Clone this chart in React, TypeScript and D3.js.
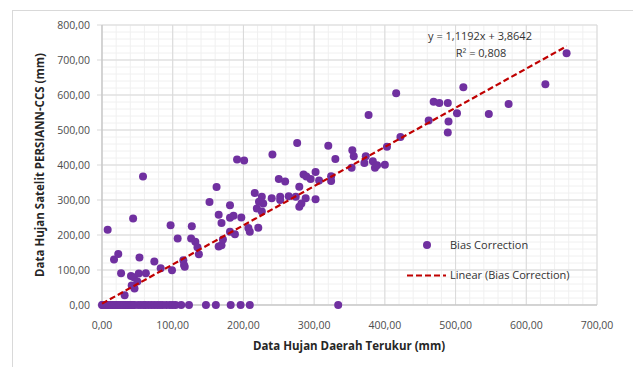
import * as d3 from 'd3';

// Rain gauge (x) vs. PERSIANN-CCS satellite (y), mm
const gaugeRain = [
  8, 17, 23, 27, 32, 44, 41, 45, 42, 46, 50, 52, 62, 53, 58, 74, 83, 97, 99, 107,
  115, 116, 117, 127, 126, 132, 135, 137, 152, 162, 165, 169, 165, 169, 171, 181, 181, 186, 197, 181,
  188, 207, 209, 221, 191, 201, 216, 222, 219, 226, 228, 226, 241, 240, 250, 252, 252, 259, 264, 274,
  276, 279, 282, 279, 285, 289, 288, 295, 302, 302, 307, 320, 324, 324, 330, 353, 354, 356, 371, 373,
  377, 383, 386, 389, 400, 403, 422, 416, 462, 469, 477, 489, 490, 489, 502, 511, 547, 575, 627, 657,
];
const satelliteRain = [
  215, 130, 146, 91, 28, 247, 83, 79, 56, 47, 67, 90, 91, 136, 367, 124, 105, 228, 99, 190,
  128, 114, 109, 225, 190, 181, 165, 145, 294, 337, 258, 234, 167, 171, 187, 285, 249, 255, 250, 209,
  202, 220, 209, 221, 416, 413, 320, 295, 276, 309, 290, 267, 430, 305, 360, 309, 300, 353, 311, 309,
  463, 281, 290, 338, 373, 367, 305, 360, 380, 302, 356, 455, 368, 354, 417, 392, 442, 425, 406, 425,
  543, 411, 392, 399, 401, 452, 480, 605, 527, 581, 577, 577, 524, 493, 548, 622, 546, 574, 631, 719,
];
// gauge values where the satellite recorded 0 mm
const zeroSatellite = [
  0, 1, 2, 3, 4, 5, 6, 7, 8, 9, 10, 11, 12, 13, 14, 15, 16, 17, 18, 19, 20, 22, 24, 26, 28,
  30, 32, 34, 36, 38, 40, 42, 44, 46, 51, 55, 59, 62, 66, 70, 74, 78, 82, 86, 91, 96, 100, 104,
  112, 123, 147, 161, 182, 196, 209, 334,
];

const slope = 1.1192;
const intercept = 3.8642;
const equationLabel = 'y = 1,1192x + 3,8642';
const r2Label = 'R² = 0,808';

const xTicks = [0, 100, 200, 300, 400, 500, 600, 700];
const yTicks = [0, 100, 200, 300, 400, 500, 600, 700, 800];

const fmt = (v: number) => v.toFixed(2).replace('.', ',');

export default function App() {
  const width = 633;
  const height = 367;
  const left = 102;
  const right = 597;
  const top = 25;
  const bottom = 305;

  const x = d3.scaleLinear().domain([0, 700]).range([left, right]);
  const y = d3.scaleLinear().domain([0, 800]).range([bottom, top]);

  const minorX = d3.range(0, 701, 20);
  const minorY = d3.range(0, 801, 20);

  const points = gaugeRain.map((g, i) => ({ g, s: satelliteRain[i] }))
    .concat(zeroSatellite.map(g => ({ g, s: 0 })));

  const xMax = d3.max(points, d => d.g) ?? 0;
  const trend = d3.line<number>()
    .x(d => x(d))
    .y(d => y(slope * d + intercept));

  const font = "'Open Sans', 'Noto Sans', sans-serif";
  const purple = '#7030a0';
  const red = '#c00000';

  return (
    <svg width={width} height={height} style={{ position: 'absolute', left: 0, top: 0, background: '#fff' }} fontFamily={font}>
      <rect x={12.5} y={10.5} width={640} height={400} fill="#fff" stroke="#d9d9d9" />

      {/* minor grid */}
      <g stroke="#f0f0f0" strokeWidth={1}>
        {minorX.map(v => <line key={'mx' + v} x1={x(v)} x2={x(v)} y1={top} y2={bottom} />)}
        {minorY.map(v => <line key={'my' + v} x1={left} x2={right} y1={y(v)} y2={y(v)} />)}
      </g>
      {/* major grid */}
      <g stroke="#d9d9d9" strokeWidth={1}>
        {xTicks.map(v => <line key={'gx' + v} x1={x(v)} x2={x(v)} y1={top} y2={bottom} />)}
        {yTicks.map(v => <line key={'gy' + v} x1={left - 5} x2={right} y1={y(v)} y2={y(v)} />)}
      </g>
      <line x1={left} x2={left} y1={top} y2={bottom} stroke="#bfbfbf" />
      <line x1={left} x2={right} y1={bottom} y2={bottom} stroke="#bfbfbf" />

      {/* tick labels */}
      <g fontSize={10.5} fill="#4d4d4d">
        {xTicks.map(v => (
          <text key={'tx' + v} x={x(v)} y={bottom + 24} textAnchor="middle">{fmt(v)}</text>
        ))}
        {yTicks.map(v => (
          <text key={'ty' + v} x={left - 12} y={y(v)} dy="0.35em" textAnchor="end">{fmt(v)}</text>
        ))}
      </g>

      {/* axis titles */}
      <text x={349} y={350} textAnchor="middle" fontSize={11.5} fontWeight="bold" fill="#262626">
        Data Hujan Daerah Terukur (mm)
      </text>
      <text transform={`translate(44,165) rotate(-90)`} textAnchor="middle" fontSize={11.5} fontWeight="bold" fill="#262626">
        Data Hujan Satelit PERSIANN-CCS (mm)
      </text>

      {/* points */}
      <g fill={purple}>
        {points.map((d, i) => <circle key={i} cx={x(d.g)} cy={y(d.s)} r={4} />)}
      </g>

      {/* trendline */}
      <path d={trend([0, xMax]) ?? ''} fill="none" stroke={red} strokeWidth={2.2} strokeDasharray="6,3" />

      {/* equation */}
      <g fontSize={11} fill="#333" textAnchor="middle">
        <text x={480} y={36} dy="0.35em">{equationLabel}</text>
        <text x={481} y={53} dy="0.35em">{r2Label}</text>
      </g>

      {/* legend */}
      <circle cx={427} cy={245} r={4} fill={purple} />
      <text x={450} y={245} dy="0.35em" fontSize={11} fill="#333">Bias Correction</text>
      <line x1={407} x2={446} y1={275.5} y2={275.5} stroke={red} strokeWidth={2.2} strokeDasharray="6,3" />
      <text x={450} y={275} dy="0.35em" fontSize={11} fill="#333">Linear (Bias Correction)</text>
    </svg>
  );
}
